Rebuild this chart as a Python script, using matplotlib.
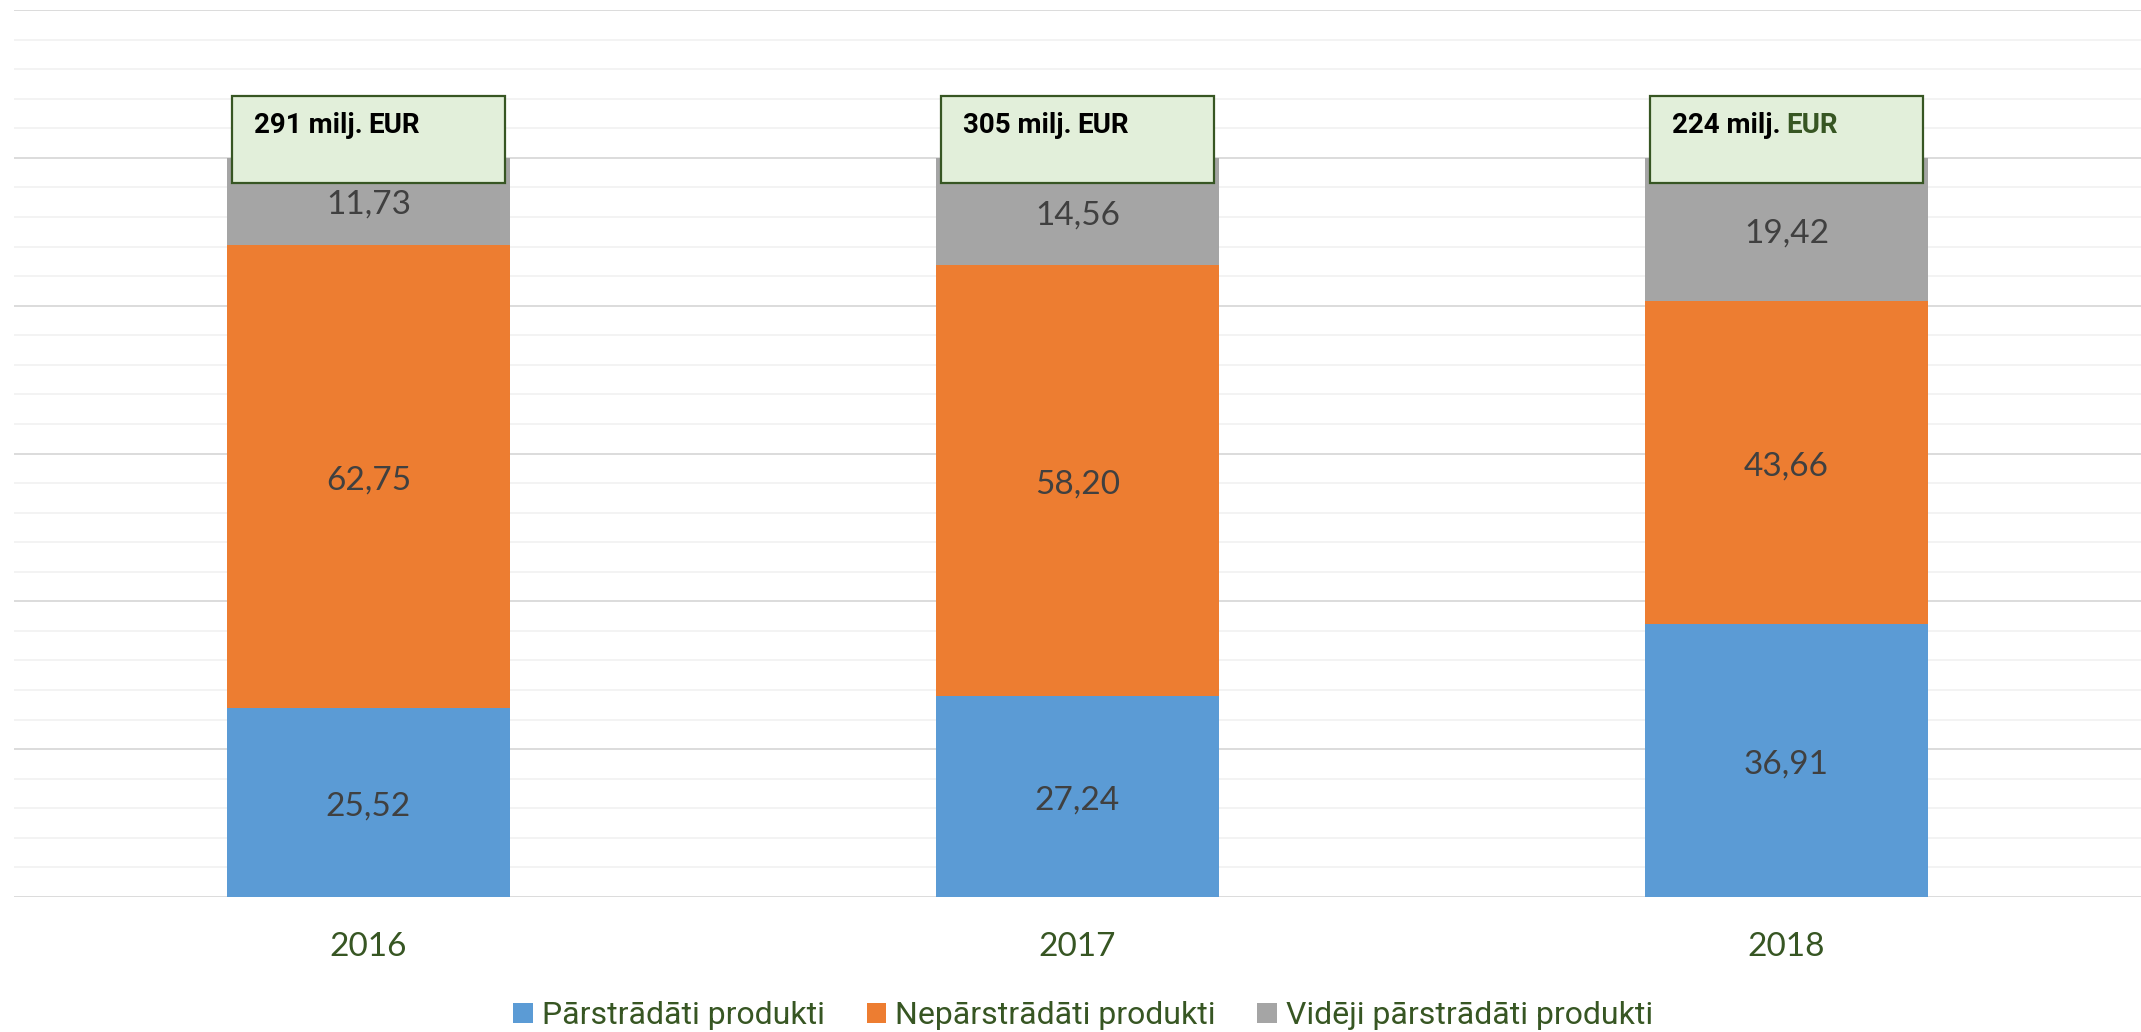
import matplotlib.pyplot as plt
from matplotlib.patches import Rectangle, Patch

# data (percent shares per year)
years = ["2016", "2017", "2018"]
processed = [25.52, 27.24, 36.91]
unprocessed = [62.75, 58.20, 43.66]
semi = [11.73, 14.56, 19.42]
totals = ["291 milj.", "305 milj.", "224 milj."]
unit_colors = ["black", "black", "#375623"]
series_names = ["Pārstrādāti produkti", "Nepārstrādāti produkti", "Vidēji pārstrādāti produkti"]

colors = ["#5b9bd5", "#ed7d31", "#a5a5a5"]
green = "#375623"
narrow = ["Roboto", "DejaVu Sans"]

fig = plt.figure(figsize=(21.41, 10.32), dpi=100)
ax = fig.add_axes([0.0065, 0.1308, 0.9935, 0.8595])

x = list(range(len(years)))
# gridlines
for v in range(0, 121, 4):
    major = v % 20 == 0
    ax.axhline(v, color="#d9d9d9" if major else "#f0f0f0", lw=1.3 if major else 1.1, zorder=0)

bottom = [0, 0, 0]
for vals, c in zip([processed, unprocessed, semi], colors):
    bars = ax.bar(x, vals, width=0.4, bottom=bottom, color=c, zorder=2)
    for xi, v, b in zip(x, vals, bottom):
        ax.text(xi, b + v / 2 - 0.5, f"{v:.2f}".replace(".", ","), ha="center", va="center",
                fontsize=24, color="#404040", family="Lato", zorder=3)
    bottom = [b + v for b, v in zip(bottom, vals)]

# total boxes
for xi, tot, uc in zip(x, totals, unit_colors):
    ax.add_patch(Rectangle((xi - 0.192, 96.6), 0.385, 11.8, facecolor="#e2efda",
                           edgecolor=green, lw=1.6, zorder=4))
    t = ax.text(xi - 0.162, 103.3, tot, ha="left", va="baseline", fontsize=20,
                fontweight="bold", family=narrow, color="black", zorder=5)
    ax.annotate("EUR", xy=(1, 0), xycoords=t, xytext=(4, 0), textcoords="offset points",
                ha="left", va="bottom", fontsize=20, fontweight="bold", family=narrow,
                color=uc, zorder=5)

ax.set_xlim(-0.5, 2.5)
ax.set_ylim(0, 120)
ax.set_yticks([])
ax.set_xticks(x)
ax.set_xticklabels(years, fontsize=24, color=green, family="Lato")
ax.tick_params(axis="x", length=0, pad=25)
for s in ax.spines.values():
    s.set_visible(False)

handles = [Patch(facecolor=c) for c in colors]
fig.legend(handles, series_names, loc="center", bbox_to_anchor=(0.506, 0.016), ncol=3,
           frameon=False, handlelength=0.6, handleheight=0.6, handletextpad=0.3,
           columnspacing=1.3, prop={"family": narrow, "size": 23},
           labelcolor=green)

fig.savefig("out.png", dpi=100)
